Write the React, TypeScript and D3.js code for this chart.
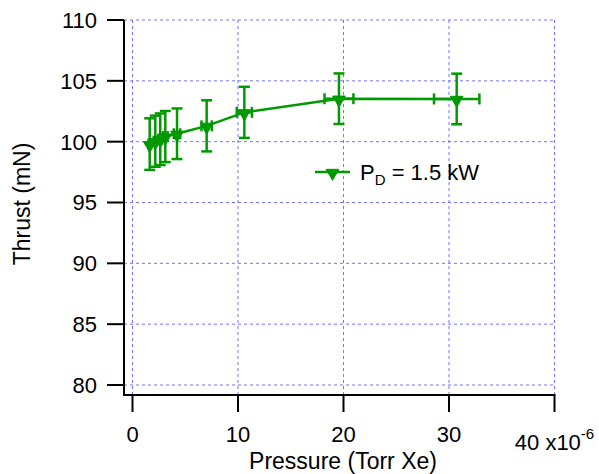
import React from "react";
import * as d3 from "d3";

const pressure = [1.63, 2.16, 2.63, 3.11, 4.22, 7.03, 10.6, 19.57, 30.73];
const thrust = [99.8, 100.04, 100.2, 100.42, 100.65, 101.3, 102.41, 103.53, 103.51];
const thrustErr = [2.12, 2.1, 2.12, 2.1, 2.08, 2.1, 2.1, 2.08, 2.08];
const pressureErr = [0.11, 0.15, 0.18, 0.22, 0.3, 0.49, 0.72, 1.37, 2.15];
const xTicks = [0, 10, 20, 30, 40];
const yTicks = [80, 85, 90, 95, 100, 105, 110];
const seriesLabel = "1.5 kW";

const W = 599;
const H = 474;
const green = "#009900";
const gridColor = "#7373ff";
const font = "'Liberation Sans', Arial, Helvetica, sans-serif";

export default function App() {
  const x = d3.scaleLinear().domain([0, 40]).range([132.5, 554.5]);
  const y = d3.scaleLinear().domain([80, 110]).range([385, 20]);
  const xLeft = 124;
  const yBottom = 395;

  const data = pressure.map((p, i) => ({ p, t: thrust[i], te: thrustErr[i], pe: pressureErr[i] }));
  const line = d3
    .line<{ p: number; t: number }>()
    .x((d) => x(d.p))
    .y((d) => y(d.t));
  const tri = d3.symbol().type(d3.symbolTriangle).size(70)();

  const capW = 5.5;

  return (
    <svg
      width={W}
      height={H}
      viewBox={`0 0 ${W} ${H}`}
      style={{ position: "absolute", left: 0, top: 0, background: "#fff" }}
      fontFamily={font}
    >
      {/* grid */}
      {yTicks.map((t) => (
        <line
          key={"gy" + t}
          x1={xLeft}
          x2={x(40)}
          y1={y(t)}
          y2={y(t)}
          stroke={gridColor}
          strokeWidth={1}
          strokeDasharray="3,3"
        />
      ))}
      {xTicks.map((t) => (
        <line
          key={"gx" + t}
          x1={x(t)}
          x2={x(t)}
          y1={y(110)}
          y2={yBottom}
          stroke={gridColor}
          strokeWidth={1}
          strokeDasharray="3,3"
        />
      ))}

      {/* axes */}
      <line x1={xLeft} x2={xLeft} y1={y(110)} y2={yBottom + 1} stroke="#000" strokeWidth={2} />
      <line x1={xLeft - 1} x2={x(40) + 1} y1={yBottom} y2={yBottom} stroke="#000" strokeWidth={2} />
      {yTicks.map((t) => (
        <g key={"yt" + t}>
          <line x1={xLeft - 17} x2={xLeft} y1={y(t)} y2={y(t)} stroke="#000" strokeWidth={2} />
          <text x={97} y={y(t)} dy="0.36em" textAnchor="end" fontSize={22} fill="#000">
            {t}
          </text>
        </g>
      ))}
      {xTicks.map((t) => (
        <g key={"xt" + t}>
          <line x1={x(t)} x2={x(t)} y1={yBottom} y2={yBottom + 17} stroke="#000" strokeWidth={2} />
          {t !== 40 ? (
            <text x={x(t)} y={442} textAnchor="middle" fontSize={22} fill="#000">
              {t}
            </text>
          ) : (
            <text x={x(t)} y={450} textAnchor="middle" fontSize={22} fill="#000">
              {t} x10
              <tspan fontSize={15} dy={-11}>
                -6
              </tspan>
            </text>
          )}
        </g>
      ))}
      <text x={343} y={469} textAnchor="middle" fontSize={23} fill="#000">
        Pressure (Torr Xe)
      </text>
      <text
        transform={`translate(30,204) rotate(-90)`}
        textAnchor="middle"
        fontSize={23}
        fill="#000"
      >
        Thrust (mN)
      </text>

      {/* data line */}
      <path d={line(data) || ""} fill="none" stroke={green} strokeWidth={2.5} />

      {/* error bars */}
      {data.map((d, i) => (
        <g key={"e" + i} stroke={green} strokeWidth={2.5}>
          <line x1={x(d.p)} x2={x(d.p)} y1={y(d.t - d.te)} y2={y(d.t + d.te)} />
          <line x1={x(d.p) - capW} x2={x(d.p) + capW} y1={y(d.t - d.te)} y2={y(d.t - d.te)} />
          <line x1={x(d.p) - capW} x2={x(d.p) + capW} y1={y(d.t + d.te)} y2={y(d.t + d.te)} />
          <line x1={x(d.p - d.pe)} x2={x(d.p + d.pe)} y1={y(d.t)} y2={y(d.t)} />
          <line x1={x(d.p - d.pe)} x2={x(d.p - d.pe)} y1={y(d.t) - capW} y2={y(d.t) + capW} />
          <line x1={x(d.p + d.pe)} x2={x(d.p + d.pe)} y1={y(d.t) - capW} y2={y(d.t) + capW} />
        </g>
      ))}

      {/* markers */}
      {data.map((d, i) => (
        <path
          key={"m" + i}
          d={tri || ""}
          transform={`translate(${x(d.p)},${y(d.t) + 1}) rotate(180)`}
          fill={green}
          stroke={green}
          strokeWidth={1}
        />
      ))}

      {/* legend */}
      <line x1={315} x2={350} y1={172} y2={172} stroke={green} strokeWidth={2.5} />
      <path d={tri || ""} transform={`translate(332.5,173) rotate(180)`} fill={green} stroke={green} strokeWidth={1} />
      <text x={360} y={180} fontSize={22} fill="#000">
        P
        <tspan fontSize={15} dy={5}>
          D
        </tspan>
        <tspan dy={-5}>{" = " + seriesLabel}</tspan>
      </text>
    </svg>
  );
}
